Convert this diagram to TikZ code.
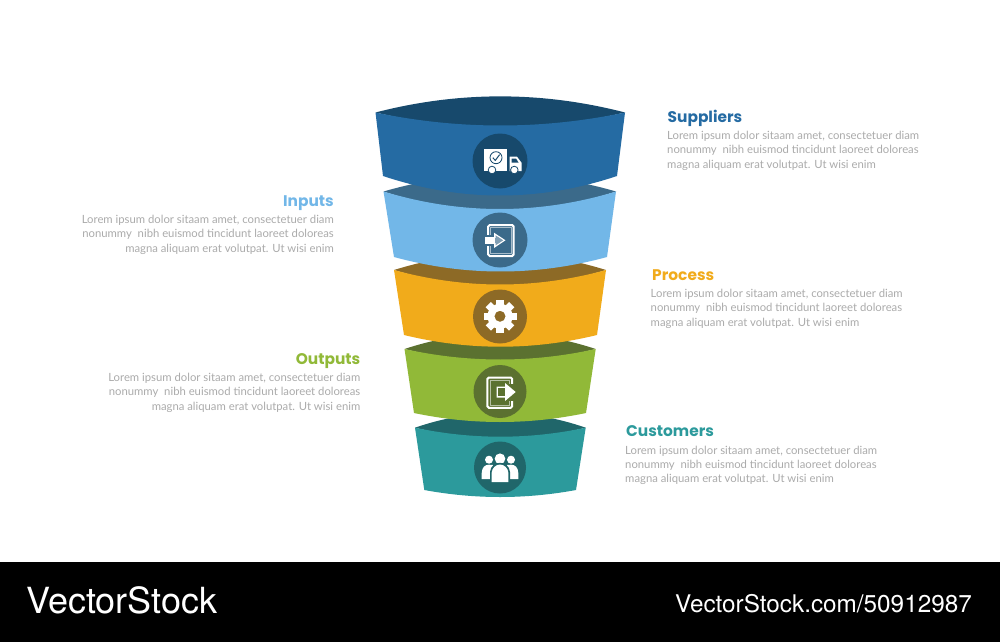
\documentclass[tikz,border=0pt]{standalone}
\usepackage{fontspec}
\setmainfont{Lato}
\newfontfamily\headfont{Poppins}
\newfontfamily\brandfont{TeX Gyre Heros}
\definecolor{cA}{HTML}{256BA3}\definecolor{dA}{HTML}{17496C}
\definecolor{cB}{HTML}{72B7E8}\definecolor{dB}{HTML}{3B6A8A}
\definecolor{cC}{HTML}{F1AB1B}\definecolor{dC}{HTML}{8D6A26}
\definecolor{cD}{HTML}{91B938}\definecolor{dD}{HTML}{5B7130}
\definecolor{cE}{HTML}{2C9A9C}\definecolor{dE}{HTML}{20666A}
\definecolor{bodygrey}{HTML}{ABABAB}
\tikzset{
 x=1pt,y=-1pt,
 heading/.style={font=\headfont\fontsize{15.4}{15.4}\selectfont\bfseries,inner sep=0pt},
 bodytext/.style={font=\fontsize{11.3}{14.3}\selectfont,text=bodygrey,inner sep=0pt},
 bodyL/.style={bodytext,align=left,anchor=north west},
 bodyR/.style={bodytext,align=right,anchor=north east},
 badge/.style={circle,inner sep=0pt},
}
% #1 light #2 dark #3 tl-x #4 tr-x #5 top-y #6 lens control-y #7 inner-arc centre-y #8 bottom-y #9 br-x; \botx bl-x; \botd sag
\newcommand{\band}[9]{%
 \fill[#2] (#3,#5) .. controls ({#3+(#4-#3)/3},{#6}) and ({#4-(#4-#3)/3},{#6}) .. (#4,#5)
   .. controls ({#4-(#4-#3)/3},{#5+1.333*(#7-#5)+2}) and ({#3+(#4-#3)/3},{#5+1.333*(#7-#5)+2}) .. (#3,#5) -- cycle;
 \fill[#1] (#3,#5) .. controls ({#3+(#4-#3)/3},{#5+1.333*(#7-#5)}) and ({#4-(#4-#3)/3},{#5+1.333*(#7-#5)}) .. (#4,#5)
  -- (#9,#8) .. controls ({#9-(#9-\botx)/3},{#8+1.333*\botd}) and ({\botx+(#9-\botx)/3},{#8+1.333*\botd}) .. (\botx,#8) -- cycle;
}
\begin{document}
\begin{tikzpicture}
\useasboundingbox (0,0) rectangle (1000,642);
\fill[white] (0,0) rectangle (1000,642);
\fill[black] (0,562) rectangle (1000,642);
% bands bottom-up
\def\botx{424.3}\def\botd{7}\band{cE}{dE}{415}{585.7}{427.7}{408}{436.7}{490}{576}
\def\botx{414}\def\botd{9}\band{cD}{dD}{404.5}{595.7}{349}{328}{359.5}{413}{586}
\def\botx{404}\def\botd{11.7}\band{cC}{dC}{394}{606}{270}{248}{284.5}{335}{597}
\def\botx{394}\def\botd{14.5}\band{cB}{dB}{383.5}{616}{191.5}{169}{209}{257}{607}
\def\botx{383}\def\botd{19.5}\band{cA}{dA}{375.5}{625}{112.5}{91}{125.5}{176}{617}
% badges
\node[badge,fill=dA,minimum size=55pt] (b1) at (500,161) {};
\node[badge,fill=dB,minimum size=55pt] (b2) at (500,240) {};
\node[badge,fill=dC,minimum size=54pt] (b3) at (500,316.5) {};
\node[badge,fill=dD,minimum size=53pt] (b4) at (500,391.5) {};
\node[badge,fill=dE,minimum size=52pt] (b5) at (500,467.5) {};
% truck
\fill[white] (484,149.3) rectangle (507.3,171);
\fill[white] (509.7,156.7) -- (517,156.7) -- (521.7,163) -- (521.7,171) -- (509.7,171) -- cycle;
\fill[dA] (511.5,158.5) -- (516,158.5) -- (518.5,162.5) -- (511.5,162.5) -- cycle;
\draw[dA,line width=.8pt] (496,157.7) circle (6);
\draw[dA,line width=1pt] (492.8,157.7) -- (495.3,160.4) -- (499.6,154.6);
\fill[white,draw=dA,line width=.8pt] (492,170) circle (3.8);
\fill[white,draw=dA,line width=.8pt] (514.3,170) circle (3.8);
% enter door
\draw[white,line width=2pt,rounded corners=1.5pt] (488.2,225) rectangle (513.6,256);
\draw[white!55!dB,line width=1pt] (490.8,227.6) rectangle (511.1,253.4);
\fill[dB] (484,234.5) rectangle (494.5,246);
\fill[white] (485,237) -- (494,237) -- (494,232.7) -- (505.5,240.3) -- (494,248) -- (494,243.8) -- (485,243.8) -- cycle;
\fill[white!35!dB] (495,238) -- (495.5,238) -- (495.5,235.3) -- (503.2,240.3) -- (495.5,245.4) -- (495.5,242.8) -- (495,242.8) -- cycle;
% gear
\foreach \a in {0,45,...,315}{\fill[white,rotate around={\a:(500,316.3)}] (496.3,299.8) rectangle (503.7,306);}
\fill[white,even odd rule] (500,316.3) circle (12.6) (500,316.3) circle (5.6);
% exit door
\draw[white,line width=2pt,rounded corners=1.5pt] (487.4,377.5) rectangle (512.2,407.8);
\draw[white!55!dD,line width=1pt] (490,380.1) rectangle (509.6,405.2);
\fill[dD] (495.5,384) rectangle (513.5,401);
\fill[white] (496.7,386.5) -- (505,386.5) -- (505,383) -- (515.7,392) -- (505,401) -- (505,397.5) -- (496.7,397.5) -- cycle;
\fill[dD] (498.2,388) -- (504.5,388) -- (504.5,396) -- (498.2,396) -- cycle;
% people
\fill[white] (489,459.7) circle (4) (511,459.7) circle (4) (500,458.7) circle (5.3);
\fill[white] (481.7,479) -- (481.7,473) .. controls (482,467) and (485,464.7) .. (489,464.7) .. controls (492,464.7) and (494,465) .. (495,466) -- (490,479) -- cycle;
\fill[white] (518.3,479) -- (518.3,473) .. controls (518,467) and (515,464.7) .. (511,464.7) .. controls (508,464.7) and (506,465) .. (505,466) -- (510,479) -- cycle;
\fill[dE] (490,482.5) -- (490,472) .. controls (490.5,466) and (495,462.8) .. (500,462.8) .. controls (505,462.8) and (509.5,466) .. (510,472) -- (510,482.5) -- cycle;
\fill[white] (491.7,482) -- (491.7,472.5) .. controls (492,468) and (496,464.5) .. (500,464.5) .. controls (504,464.5) and (508,468) .. (508.3,472.5) -- (508.3,482) -- cycle;
% texts
\node[heading,text=cA,anchor=base west] (t1) at (667.5,122) {Suppliers};
\node[bodyL] (p1) at (667,131) {Lorem ipsum dolor sitaam amet, consectetuer diam\\nonummy\ \ nibh euismod tincidunt laoreet doloreas\\magna aliquam erat volutpat. Ut wisi enim};
\node[heading,text=cB,anchor=base east] (t2) at (334,206) {Inputs};
\node[bodyR] (p2) at (334,215) {Lorem ipsum dolor sitaam amet, consectetuer diam\\nonummy\ \ nibh euismod tincidunt laoreet doloreas\\magna aliquam erat volutpat. Ut wisi enim};
\node[heading,text=cC,anchor=base west] (t3) at (652,280) {Process};
\node[bodyL] (p3) at (650.5,289) {Lorem ipsum dolor sitaam amet, consectetuer diam\\nonummy\ \ nibh euismod tincidunt laoreet doloreas\\magna aliquam erat volutpat. Ut wisi enim};
\node[heading,text=cD,anchor=base east] (t4) at (360.5,364) {Outputs};
\node[bodyR] (p4) at (360.5,373) {Lorem ipsum dolor sitaam amet, consectetuer diam\\nonummy\ \ nibh euismod tincidunt laoreet doloreas\\magna aliquam erat volutpat. Ut wisi enim};
\node[heading,text=cE,anchor=base west] (t5) at (626,436.5) {Customers};
\node[bodyL] (p5) at (625,445.5) {Lorem ipsum dolor sitaam amet, consectetuer diam\\nonummy\ \ nibh euismod tincidunt laoreet doloreas\\magna aliquam erat volutpat. Ut wisi enim};
% footer
\node[anchor=base west,inner sep=0pt,text=white,font=\brandfont\fontsize{36}{36}\selectfont] (vs) at (26,613.5) {VectorStock};
\node[anchor=base east,inner sep=0pt,text=white,font=\brandfont\fontsize{24.3}{24.3}\selectfont] (url) at (972,612.7) {VectorStock.com/50912987};
\end{tikzpicture}
\end{document}
